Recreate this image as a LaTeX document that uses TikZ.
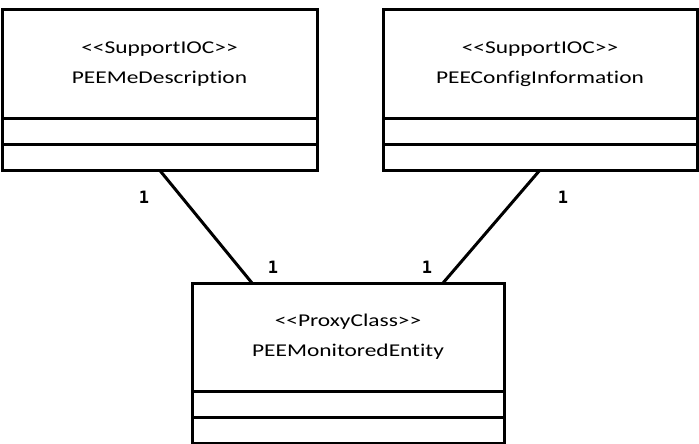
\documentclass[tikz,border=0pt]{standalone}
\usepackage{fontspec}
\setmainfont{Carlito}[FakeStretch=1.3,Ligatures=NoCommon]
\newfontfamily\numfont{DejaVu Sans Mono}
\usetikzlibrary{positioning}

\begin{document}
\begin{tikzpicture}[x=1pt,y=-1pt,line width=3pt,
                    font=\fontsize{18}{30}\selectfont]
  \tikzstyle{every node}=[outer sep=0pt]
  \tikzstyle{classbox}=[draw,minimum height=108pt,align=center,inner sep=0pt]
  \tikzstyle{compbox}=[draw,minimum height=26pt]
  \tikzstyle{mult}=[font=\numfont\bfseries\fontsize{17}{17}\selectfont,inner sep=0pt]
  \useasboundingbox (0,0) rectangle (699,444);

  \node[classbox,minimum width=315pt] (ltitle) at (159.5,64)
        {<{}<SupportIOC>{}>\\PEEMeDescription};          % support IOC left
  \node[compbox,minimum width=315pt] (lattr) [below=0pt of ltitle] {};
  \node[compbox,minimum width=315pt] (lops)  [below=0pt of lattr]  {};

  \node[classbox,minimum width=314pt] (rtitle) at (540,64)
        {<{}<SupportIOC>{}>\\PEEConfigInformation};      % support IOC right
  \node[compbox,minimum width=314pt] (rattr) [below=0pt of rtitle] {};
  \node[compbox,minimum width=314pt] (rops)  [below=0pt of rattr]  {};

  \node[classbox,minimum width=312pt] (mtitle) at (348,337)
        {<{}<ProxyClass>{}>\\PEEMonitoredEntity};        % proxy class
  \node[compbox,minimum width=312pt] (mattr) [below=0pt of mtitle] {};
  \node[compbox,minimum width=312pt] (mops)  [below=0pt of mattr]  {};

  \draw (lops.south) -- ([xshift=60pt]mtitle.north west);
  \draw (rops.south) -- ([xshift=-61pt]mtitle.north east);

  \node[mult] (lm1) at (144,197) {1};
  \node[mult] (lm2) at (273,267) {1};
  \node[mult] (rm2) at (427,267) {1};
  \node[mult] (rm1) at (563,197) {1};
\end{tikzpicture}
\end{document}
